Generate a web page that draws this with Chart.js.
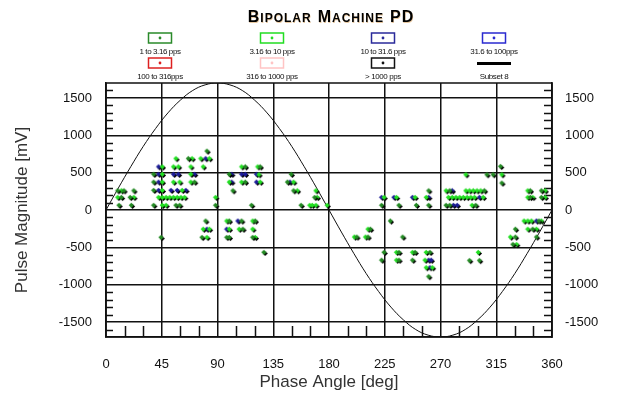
<!DOCTYPE html>
<html>
<head>
<meta charset="utf-8">
<script src="https://cdn.jsdelivr.net/npm/chart.js@4.4.0/dist/chart.umd.min.js"></script>
<style>
  html, body { margin: 0; padding: 0; background: #fff; }
</style>
</head>
<body>
<canvas id="grafico" width="628" height="394"></canvas>
<script>
// pulses 1 to 3.16 pps [deg, mV]
const slowPulses = [
  [11,55],[21,55],[10,250],[15,250],[23,250],[13,160],[20,160],[39,470],[39,365],[39,255],[39,55],
  [57,55],[60,55],[67,680],[72,365],[82,780],[81,-155],[45,-375],[78,-375],[89,55],
  [100,470],[113,570],[125,570],[113,365],[103,250],[118,55],[150,470],[147,365],[152,250],
  [158,55],[169,160],[98,-375],[100,-375],[100,-155],[110,-155],[121,-155],[111,-265],
  [119,-375],[128,-575],[223,55],[237,55],[251,55],[261,55],[261,250],[230,-155],[214,-265],
  [203,-370],[212,-370],[240,-370],[225,-575],[237,-575],[250,-575],[262,-575],[223,-680],
  [237,-680],[248,-680],[261,-900],[275,55],[278,55],[299,55],[319,575],[308,465],[313,465],
  [320,353],[306,250],[278,250],[331,-265],[345,-265],[331,-370],[348,-370],[329,-470],
  [294,-685],[302,-685],[350,-155],[352,250],[352,160],[343,160],[343,250]
];
// pulses 3.16 to 10 pps
const midPulses = [
  [13,250],[10,160],[23,160],[46,570],[55,570],[59,570],[69,570],[79,570],[57,680],[70,680],
  [77,680],[84,680],[46,470],[69,470],[46,365],[55,365],[60,365],[69,365],[46,255],[62,255],
  [43,160],[46,160],[49,160],[52,160],[55,160],[58,160],[61,160],[64,160],[89,160],[46,55],
  [49,55],[79,-265],[84,-265],[82,-375],[110,570],[123,570],[124,465],[100,365],[110,365],
  [125,365],[152,365],[155,250],[165,55],[167,55],[170,55],[179,55],[171,160],[170,250],
  [98,-155],[119,-155],[100,-265],[108,-265],[119,-265],[121,-375],[225,160],[235,160],
  [250,160],[259,160],[212,-265],[201,-370],[210,-370],[235,-575],[248,-575],[259,-575],
  [235,-680],[258,-680],[259,-780],[264,-780],[275,250],[291,250],[294,250],[297,250],
  [300,250],[303,250],[277,160],[280,160],[283,160],[286,160],[289,160],[292,160],[295,160],
  [298,160],[305,160],[296,55],[291,465],[320,465],[341,250],[355,250],[341,160],[345,160],
  [355,160],[338,-155],[341,-155],[344,-155],[352,-155],[341,-265],[348,-265],[327,-370],
  [332,-470],[301,-575]
];
// pulses 10 to 31.6 pps
const fastPulses = [
  [43,570],[43,470],[55,470],[59,470],[72,470],[43,365],[43,255],[53,255],[58,255],[65,255],
  [81,680],[82,-265],[102,470],[110,470],[113,470],[122,470],[102,365],[122,365],[149,365],
  [107,-155],[98,-265],[223,160],[233,160],[248,160],[261,160],[261,-680],[263,-680],
  [262,-780],[280,250],[302,160],[281,55],[284,55],[348,-155]
];

// reference sine (Subset 8), read every 10 deg
const sineDeg = [0,10,20,30,40,50,60,70,80,90,100,110,120,130,140,150,160,170,180,
  190,200,210,220,230,240,250,260,270,280,290,300,310,320,330,340,350,360];
const sineMv = [0,295,580,850,1090,1300,1470,1600,1675,1700,1675,1600,1470,1300,1090,850,580,295,0,
  -295,-580,-850,-1090,-1300,-1470,-1600,-1675,-1700,-1675,-1600,-1470,-1300,-1090,-850,-580,-295,0];

const yTicks = [-1500, -1000, -500, 0, 500, 1000, 1500];

const legendLabels = ['1 to 3.16 pps', '3.16 to 10 pps', '10 to 31.6 pps', '31.6 to 100pps',
  '100 to 316pps', '316 to 1000 pps', '> 1000 pps', 'Subset 8'];
const legendColors = ['#2a8a2a', '#22dd22', '#2a2a9a', '#2a2ad0', '#dd2020', '#ffc4c4', '#111111', '#000000'];

function marker(color) {
    let c = document.createElement('canvas');
    c.width = 8; c.height = 8;
    let g = c.getContext('2d');
    function diamond(cx, cy, r, fill) {
        g.beginPath();
        g.moveTo(cx, cy - r); g.lineTo(cx + r, cy); g.lineTo(cx, cy + r); g.lineTo(cx - r, cy);
        g.closePath();
        g.fillStyle = fill;
        g.fill();
    }
    diamond(4.5, 4.5, 2.6, '#000');
    diamond(3.3, 3.3, 2.6, color);
    return c;
}

function toPoints(list) {
    return list.map(p => ({ x: p[0], y: p[1] }));
}

const frame = {
    id: 'frame',
    beforeDatasetsDraw(chart) {
        let ctx = chart.ctx;
        let a = chart.chartArea;
        let sx = chart.scales.x, sy = chart.scales.y;
        ctx.save();
        ctx.strokeStyle = '#111';
        ctx.lineWidth = 1.5;
        ctx.beginPath();
        for (let v = -1600; v <= 1600; v += 100) {
            if (v % 500 === 0) continue;
            let py = Math.round(sy.getPixelForValue(v)) + 0.5;
            ctx.moveTo(a.left, py); ctx.lineTo(a.left + 7, py);
            ctx.moveTo(a.right - 8, py); ctx.lineTo(a.right, py);
        }
        for (let d = 15; d < 360; d += 15) {
            if (d % 45 === 0) continue;
            let px = Math.round(sx.getPixelForValue(d)) + 0.5;
            ctx.moveTo(px, a.bottom - 11); ctx.lineTo(px, a.bottom);
        }
        ctx.stroke();
        ctx.strokeRect(a.left, a.top, a.right - a.left, a.bottom - a.top);
        ctx.restore();
    }
};

const header = {
    id: 'header',
    afterDraw(chart) {
        let ctx = chart.ctx;
        ctx.save();
        // title in small caps
        let title = 'Bipolar Machine PD';
        let parts = title.split('').map(ch => {
            let big = ch === ch.toUpperCase() && ch !== ' ';
            return { t: ch.toUpperCase(), font: big ? 'bold 16px "Liberation Sans"' : 'bold 12px "Liberation Sans"' };
        });
        let spacing = 1;
        let total = 0;
        parts.forEach(p => { ctx.font = p.font; p.w = (p.t === ' ' ? 5 : ctx.measureText(p.t).width) + spacing; total += p.w; });
        let x = 331 - total / 2;
        ctx.textBaseline = 'alphabetic';
        ctx.textAlign = 'left';
        parts.forEach(p => {
            ctx.font = p.font;
            ctx.fillStyle = '#e8c8a0';
            ctx.fillText(p.t, x + 0.5, 22.5);
            ctx.fillStyle = '#000';
            ctx.fillText(p.t, x, 22);
            x += p.w;
        });

        // legend: 4 columns x 2 rows
        let cols = [160, 272, 383, 494];
        ctx.font = '8px "Liberation Sans"';
        ctx.letterSpacing = '-0.4px';
        ctx.textAlign = 'center';
        ctx.textBaseline = 'middle';
        for (let i = 0; i < legendLabels.length; i++) {
            let cx = cols[i % 4];
            let by = i < 4 ? 38 : 63;
            let color = legendColors[i];
            if (i === 7) {
                ctx.fillStyle = '#000';
                ctx.fillRect(cx - 17, by - 1, 34, 3);
            } else {
                ctx.strokeStyle = color;
                ctx.lineWidth = 1.5;
                ctx.strokeRect(cx - 11.5, by - 5, 23, 10);
                ctx.fillStyle = color;
                ctx.beginPath();
                ctx.arc(cx, by, 1.4, 0, Math.PI * 2);
                ctx.fill();
            }
            ctx.fillStyle = '#111';
            ctx.fillText(legendLabels[i], cx, by + 14);
        }
        ctx.restore();
    }
};

const axisFont = { family: '"Liberation Sans", Arial, sans-serif', size: 13 };
const titleFont = { family: '"Liberation Sans", Arial, sans-serif', size: 17 };
const gridStyle = { color: '#111', lineWidth: 1.5, drawTicks: false };

function fixTicks(axis) {
    axis.ticks = yTicks.map(v => ({ value: v }));
}

function plainLabel(value) {
    return String(value);
}

let ctx = document.getElementById('grafico').getContext('2d');
window.grafico = new Chart(ctx, {
    type: 'scatter',
    data: {
        datasets: [
            { label: '1 to 3.16 pps', data: toPoints(slowPulses), pointStyle: marker('#238a23'), yAxisID: 'y' },
            { label: '3.16 to 10 pps', data: toPoints(midPulses), pointStyle: marker('#22e022'), yAxisID: 'y' },
            { label: '10 to 31.6 pps', data: toPoints(fastPulses), pointStyle: marker('#1c1c96'), yAxisID: 'y' },
            {
                label: 'Subset 8',
                data: sineDeg.map((d, i) => ({ x: d, y: sineMv[i] })),
                showLine: true, borderColor: '#111', borderWidth: 1, pointRadius: 0,
                tension: 0.4, fill: false, yAxisID: 'y'
            }
        ]
    },
    options: {
        responsive: false,
        animation: false,
        devicePixelRatio: 1,
        layout: { padding: { top: 83, left: 0, right: 0, bottom: 0 } },
        plugins: { legend: { display: false }, tooltip: { enabled: false } },
        scales: {
            x: {
                type: 'linear', min: 0, max: 360,
                ticks: { stepSize: 45, font: axisFont, color: '#111', padding: 20, maxRotation: 0, callback: plainLabel },
                grid: gridStyle,
                border: { color: '#111', width: 1.5 },
                title: { display: true, text: 'Phase Angle [deg]', font: titleFont, color: '#333', padding: { top: 0, bottom: 1 } },
                afterFit: s => { s.height = 57; }
            },
            y: {
                position: 'left', min: -1700, max: 1700,
                afterBuildTicks: fixTicks,
                ticks: { font: axisFont, color: '#111', padding: 14, callback: plainLabel },
                grid: gridStyle,
                border: { color: '#111', width: 1.5 },
                title: { display: true, text: 'Pulse Magnitude [mV]', font: titleFont, color: '#333', padding: { top: 12, bottom: 0 } },
                afterFit: s => { s.width = 106; }
            },
            y2: {
                position: 'right', min: -1700, max: 1700,
                afterBuildTicks: fixTicks,
                ticks: { font: axisFont, color: '#111', padding: 13, callback: plainLabel },
                grid: { display: false, drawTicks: false },
                border: { color: '#111', width: 1.5 },
                afterFit: s => { s.width = 76; }
            }
        }
    },
    plugins: [frame, header]
});
</script>
</body>
</html>
